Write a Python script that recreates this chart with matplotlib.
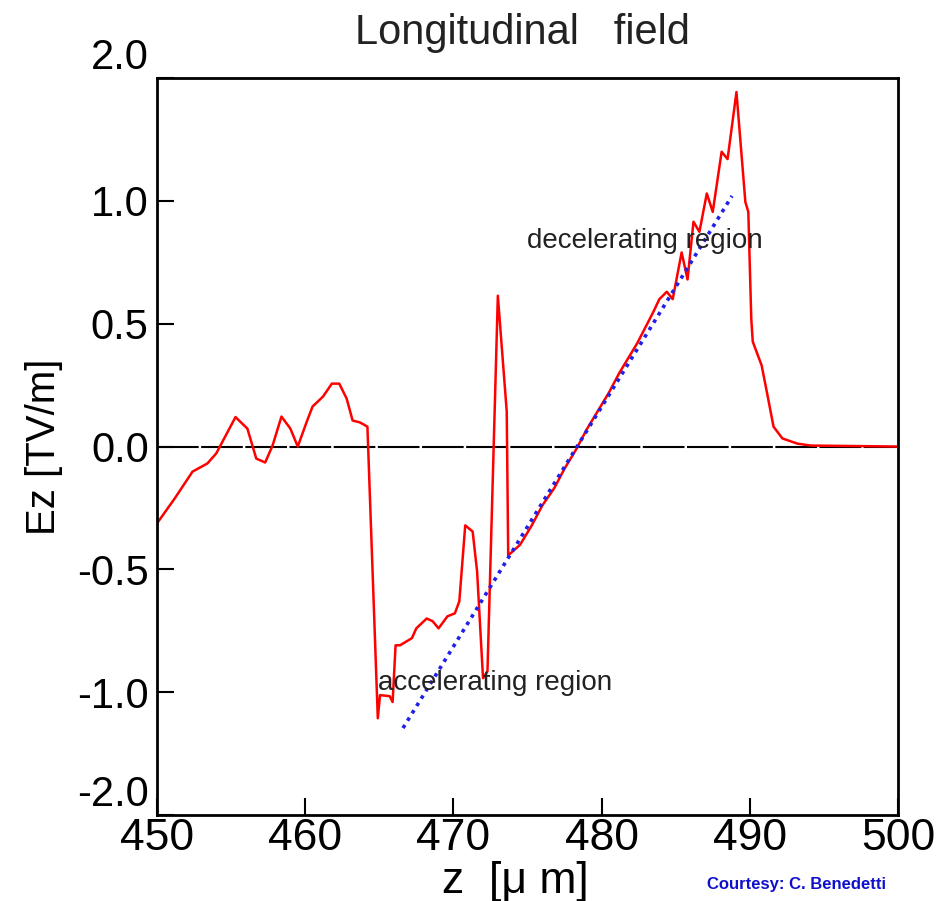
import matplotlib
matplotlib.use("Agg")
import matplotlib.pyplot as plt

# ---- data ----
z_um = [450.0, 451.2, 452.4, 453.4, 454.0, 455.3, 456.1, 456.7, 457.3, 457.8,
        458.4, 459.0, 459.5, 460.1, 460.5, 461.2, 461.8, 462.3, 462.8, 463.2,
        463.7, 464.2, 464.9, 465.05, 465.7, 465.9, 466.1, 466.4, 467.2, 467.5,
        468.2, 468.6, 469.0, 469.6, 470.1, 470.4, 470.8, 471.3, 471.6, 472.0,
        472.3, 473.0, 473.6, 473.7, 474.5, 475.3, 476.0, 476.8, 477.5, 478.3,
        479.0, 479.8, 480.5, 481.2, 481.8, 482.4, 483.0, 483.5, 483.9, 484.4,
        484.8, 485.4, 485.8, 486.2, 486.6, 487.1, 487.5, 488.1, 488.5, 489.1,
        489.7, 489.9, 490.1, 490.2, 490.8, 491.2, 491.6, 492.2, 493.2, 494.1,
        500.0]
ez = [-0.313, -0.211, -0.102, -0.069, -0.028, 0.120, 0.073, -0.049, -0.065, 0.004,
      0.122, 0.073, 0.000, 0.100, 0.163, 0.203, 0.256, 0.256, 0.195, 0.106,
      0.098, 0.081, -1.106, -1.012, -1.016, -1.040, -0.809, -0.809, -0.780, -0.740,
      -0.700, -0.711, -0.740, -0.691, -0.679, -0.630, -0.321, -0.346, -0.508, -0.943,
      -0.915, 0.614, 0.142, -0.443, -0.400, -0.320, -0.240, -0.170, -0.090, -0.010,
      0.070, 0.150, 0.220, 0.300, 0.360, 0.420, 0.490, 0.549, 0.600, 0.630,
      0.600, 0.790, 0.680, 0.915, 0.874, 1.030, 0.955, 1.200, 1.170, 1.443,
      0.996, 0.955, 0.520, 0.427, 0.330, 0.207, 0.081, 0.033, 0.012, 0.004,
      0.000]

fit_z = [466.6, 488.8]
fit_ez = [-1.146, 1.020]

xticks = [450, 460, 470, 480, 490, 500]
ytick_pos = [-1.5, -1.0, -0.5, 0.0, 0.5, 1.0, 1.5]
ytick_labels = ['-2.0', '-1.0', '-0.5', '0.0', '0.5', '1.0', '2.0']

plt.rcParams['font.family'] = ['Liberation Sans', 'DejaVu Sans']

fig = plt.figure(figsize=(9.36, 9.01), dpi=100)
ax = fig.add_axes([0.1677, 0.0954, 0.7917, 0.818])

ax.axhline(0, color='black', lw=1.5, linestyle=(0, (20, 1.2)), zorder=1)
ax.plot(z_um, ez, color='#ff0000', lw=1.8, zorder=2)
ax.plot(fit_z, fit_ez, color='#2020e8', lw=2.6, linestyle=(0, (1, 1.4)), zorder=3)

ax.set_xlim(450, 500)
ax.set_ylim(-1.5, 1.5)
ax.set_xticks(xticks)
ax.set_xticklabels([str(v) for v in xticks])
ax.set_yticks(ytick_pos)
ax.set_yticklabels(ytick_labels)
ax.tick_params(axis='both', direction='in', length=12, width=1.5, colors='black')
ax.tick_params(axis='x', pad=2, labelsize=32)
ax.tick_params(axis='y', pad=6, labelsize=30)
for lab in ax.get_yticklabels():
    if lab.get_text() in ('2.0', '-2.0'):
        lab.set_verticalalignment('bottom')
for s in ax.spines.values():
    s.set_linewidth(2)
    s.set_color('black')

ax.set_xlabel('z  [μ m]', fontsize=32)
ax.xaxis.set_label_coords(0.483, -0.063)
ax.set_ylabel('Ez [TV/m]', fontsize=29, labelpad=10)
fig.text(0.558, 0.963, 'Longitudinal   field', ha='center', va='center',
         fontsize=30, color='#222222')

ax.text(474.97, 0.837, 'decelerating region', fontsize=20, color='#222222',
        ha='left', va='center')
ax.text(464.9, -0.963, 'accelerating region', fontsize=20, color='#222222',
        ha='left', va='center')

fig.text(0.755, 0.018, 'Courtesy: C. Benedetti', fontsize=12, color='#1010cc',
         fontweight='bold', ha='left', va='center')

fig.savefig('out.png', dpi=100)
